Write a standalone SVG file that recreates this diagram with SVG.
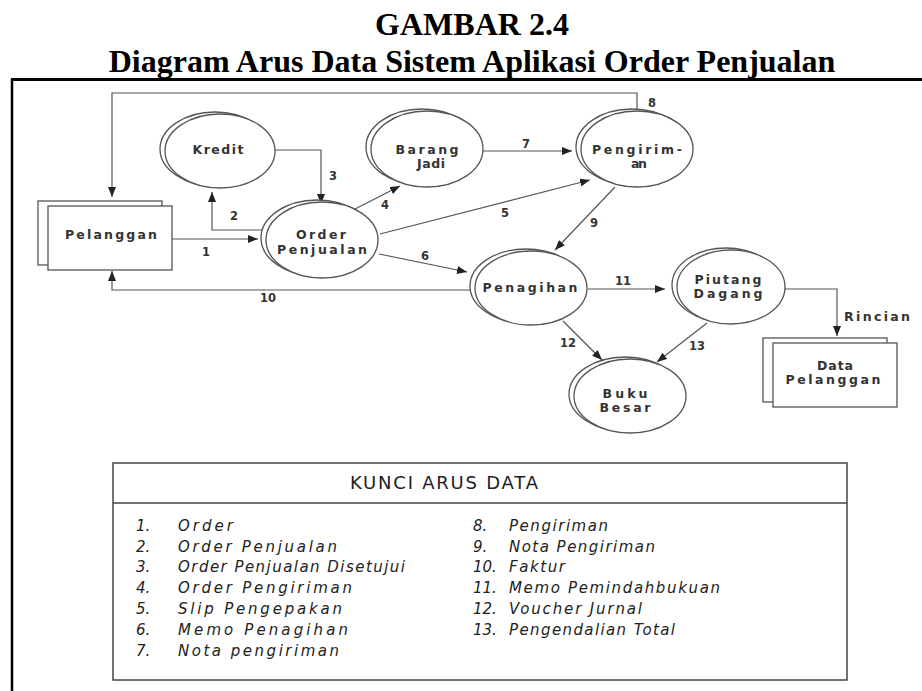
<svg xmlns="http://www.w3.org/2000/svg" width="922" height="691" viewBox="0 0 922 691">
<defs>
<marker id="ah" markerUnits="userSpaceOnUse" markerWidth="10" markerHeight="8" refX="10" refY="4" orient="auto">
<path d="M0,0 L10,4 L0,8 z" fill="#222"/>
</marker>
<style>
.title{font-family:"Liberation Serif","Times New Roman",serif;font-weight:bold;font-size:32px;fill:#000;text-anchor:middle}
.frame{stroke:#000;fill:none}
.proc-back{fill:#fff;stroke:#555;stroke-width:1.3}
.proc{fill:#fff;stroke:#555;stroke-width:1.3}
.ent{fill:#fff;stroke:#555;stroke-width:1.3}
.lbl{font-family:"DejaVu Sans","Liberation Sans",Arial,sans-serif;font-weight:bold;font-size:12.5px;fill:#333;text-anchor:middle}
.num{font-family:"DejaVu Sans","Liberation Sans",Arial,sans-serif;font-weight:bold;font-size:11.5px;fill:#333;text-anchor:middle}
.flow{fill:none;stroke:#555;stroke-width:1.2;marker-end:url(#ah)}
.key{font-family:"DejaVu Sans","Liberation Sans",Arial,sans-serif;font-style:italic;font-size:15px;fill:#222}
.keyh{font-family:"DejaVu Sans","Liberation Sans",Arial,sans-serif;font-size:18px;fill:#222;text-anchor:middle}
.box{fill:none;stroke:#444;stroke-width:1.5}
</style>
</defs>
<rect width="922" height="691" fill="#fff"/>
<text class="title" x="472" y="35">GAMBAR 2.4</text>
<text class="title" x="472" y="72">Diagram Arus Data Sistem Aplikasi Order Penjualan</text>
<line class="frame" x1="11" y1="79.5" x2="922" y2="79.5" stroke-width="3"/>
<line class="frame" x1="12" y1="79" x2="12" y2="691" stroke-width="2.5"/>

<g id="connectors">
<path class="flow" d="M637,111 V93 H112 V197"/>
<path class="flow" d="M172,239 H258"/>
<path class="flow" d="M264,230 H212 V192"/>
<path class="flow" d="M275,150 H321 V204"/>
<path class="flow" d="M355,209 L400,186"/>
<path class="flow" d="M380,234 L590,180"/>
<path class="flow" d="M379,254 L467,272"/>
<path class="flow" d="M483,151 H572"/>
<path class="flow" d="M615,187 L555,250"/>
<path class="flow" d="M470,290 H112 V271"/>
<path class="flow" d="M588,289 H665"/>
<path class="flow" d="M563,321 L602,360"/>
<path class="flow" d="M707,323 L657,362"/>
<path class="flow" d="M785,289 H837 V336"/>
<text class="num" x="206" y="256">1</text>
<text class="num" x="234" y="220">2</text>
<text class="num" x="333" y="180">3</text>
<text class="num" x="385" y="209">4</text>
<text class="num" x="505" y="217">5</text>
<text class="num" x="425" y="260">6</text>
<text class="num" x="526" y="148">7</text>
<text class="num" x="652" y="107">8</text>
<text class="num" x="594" y="227">9</text>
<text class="num" x="268" y="302">10</text>
<text class="num" x="623" y="285">11</text>
<text class="num" x="568" y="347">12</text>
<text class="num" x="697" y="350">13</text>
<text class="lbl" x="844" y="321" style="text-anchor:start" textLength="66" lengthAdjust="spacing">Rincian</text>
</g>

<g id="pelanggan">
<rect class="ent" x="38" y="201" width="124" height="64"/>
<rect class="ent" x="48" y="206" width="124" height="64"/>
<text class="lbl" x="111" y="239" textLength="92" lengthAdjust="spacing">Pelanggan</text>
</g>

<g id="kredit">
<ellipse class="proc-back" cx="215" cy="149" rx="55" ry="37"/>
<ellipse class="proc" cx="220" cy="151" rx="55" ry="37"/>
<text class="lbl" x="218" y="154" textLength="51" lengthAdjust="spacing">Kredit</text>
</g>

<g id="order-penjualan">
<ellipse class="proc-back" cx="317" cy="238" rx="56" ry="38"/>
<ellipse class="proc" cx="322" cy="240" rx="56" ry="38"/>
<text class="lbl" x="321" y="239" textLength="50" lengthAdjust="spacing">Order</text>
<text class="lbl" x="322" y="254" textLength="90" lengthAdjust="spacing">Penjualan</text>
</g>

<g id="barang-jadi">
<ellipse class="proc-back" cx="422" cy="147" rx="56" ry="38"/>
<ellipse class="proc" cx="427" cy="149" rx="56" ry="38"/>
<text class="lbl" x="427" y="154" textLength="63" lengthAdjust="spacing">Barang</text>
<text class="lbl" x="431" y="168" textLength="28" lengthAdjust="spacing">Jadi</text>
</g>

<g id="pengiriman">
<ellipse class="proc-back" cx="632" cy="147" rx="56" ry="38"/>
<ellipse class="proc" cx="637" cy="149" rx="56" ry="38"/>
<text class="lbl" x="637" y="154" textLength="90" lengthAdjust="spacing">Pengirim-</text>
<text class="lbl" x="639" y="168" textLength="16" lengthAdjust="spacing">an</text>
</g>

<g id="penagihan">
<ellipse class="proc-back" cx="526" cy="286" rx="56" ry="37"/>
<ellipse class="proc" cx="531" cy="288" rx="56" ry="37"/>
<text class="lbl" x="530" y="292" textLength="95" lengthAdjust="spacing">Penagihan</text>
</g>

<g id="piutang-dagang">
<ellipse class="proc-back" cx="726" cy="285" rx="54" ry="37"/>
<ellipse class="proc" cx="731" cy="287" rx="54" ry="37"/>
<text class="lbl" x="728" y="284" textLength="67" lengthAdjust="spacing">Piutang</text>
<text class="lbl" x="728" y="298" textLength="69" lengthAdjust="spacing">Dagang</text>
</g>

<g id="buku-besar">
<ellipse class="proc-back" cx="625" cy="394" rx="56" ry="37"/>
<ellipse class="proc" cx="630" cy="396" rx="56" ry="37"/>
<text class="lbl" x="625" y="398" textLength="45" lengthAdjust="spacing">Buku</text>
<text class="lbl" x="625" y="412" textLength="51" lengthAdjust="spacing">Besar</text>
</g>

<g id="data-pelanggan">
<rect class="ent" x="763" y="338" width="124" height="64"/>
<rect class="ent" x="773" y="343" width="124" height="64"/>
<text class="lbl" x="835" y="370" textLength="36" lengthAdjust="spacing">Data</text>
<text class="lbl" x="833" y="384" textLength="95" lengthAdjust="spacing">Pelanggan</text>
</g>

<g id="kunci-arus-data">
<rect class="box" x="113" y="463" width="734" height="217"/>
<line class="box" x1="113" y1="503" x2="847" y2="503"/>
<text class="keyh" x="444" y="489" textLength="188" lengthAdjust="spacing">KUNCI ARUS DATA</text>
<text class="key" x="136" y="531">1.</text><text class="key" x="178" y="531" textLength="55" lengthAdjust="spacing">Order</text>
<text class="key" x="136" y="552">2.</text><text class="key" x="178" y="552" textLength="159" lengthAdjust="spacing">Order Penjualan</text>
<text class="key" x="136" y="572">3.</text><text class="key" x="178" y="572" textLength="227" lengthAdjust="spacing">Order Penjualan Disetujui</text>
<text class="key" x="136" y="593">4.</text><text class="key" x="178" y="593" textLength="174" lengthAdjust="spacing">Order Pengiriman</text>
<text class="key" x="136" y="614">5.</text><text class="key" x="178" y="614" textLength="164" lengthAdjust="spacing">Slip Pengepakan</text>
<text class="key" x="136" y="635">6.</text><text class="key" x="178" y="635" textLength="170" lengthAdjust="spacing">Memo Penagihan</text>
<text class="key" x="136" y="656">7.</text><text class="key" x="178" y="656" textLength="161" lengthAdjust="spacing">Nota pengiriman</text>
<text class="key" x="473" y="531">8.</text><text class="key" x="509" y="531" textLength="99" lengthAdjust="spacing">Pengiriman</text>
<text class="key" x="473" y="552">9.</text><text class="key" x="509" y="552" textLength="146" lengthAdjust="spacing">Nota Pengiriman</text>
<text class="key" x="473" y="572">10.</text><text class="key" x="509" y="572" textLength="56" lengthAdjust="spacing">Faktur</text>
<text class="key" x="473" y="593">11.</text><text class="key" x="509" y="593" textLength="211" lengthAdjust="spacing">Memo Pemindahbukuan</text>
<text class="key" x="473" y="614">12.</text><text class="key" x="509" y="614" textLength="133" lengthAdjust="spacing">Voucher Jurnal</text>
<text class="key" x="473" y="635">13.</text><text class="key" x="509" y="635" textLength="166" lengthAdjust="spacing">Pengendalian Total</text>
</g>
</svg>
